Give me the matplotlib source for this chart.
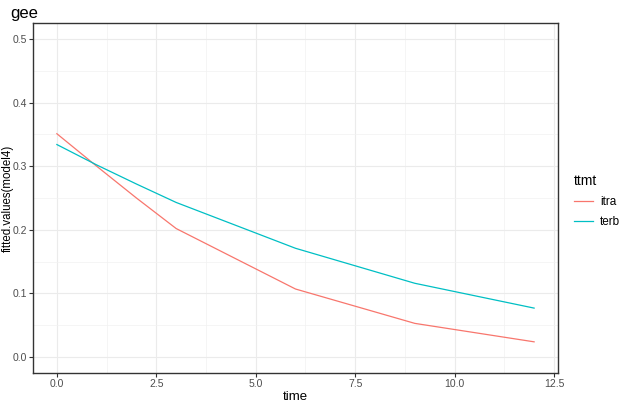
import matplotlib
matplotlib.use("Agg")
import matplotlib.pyplot as plt
import numpy as np

plt.rcParams["font.family"] = ["Liberation Sans", "DejaVu Sans"]

time = [0, 1, 2, 3, 6, 9, 12]
itra = [0.351, 0.300, 0.250, 0.202, 0.107, 0.053, 0.024]
terb = [0.334, 0.302, 0.272, 0.243, 0.171, 0.116, 0.077]
groups = ["itra", "terb"]
colors = ["#F8766D", "#00BFC4"]

fig = plt.figure(figsize=(6.24, 4.07), dpi=100)
ax = fig.add_axes([0.0529, 0.0835, 0.8413, 0.86])

for name, vals, c in zip(groups, [itra, terb], colors):
    ax.plot(time, vals, color=c, lw=0.9, label=name)

ax.set_xlim(-0.6, 12.6)
ax.set_ylim(-0.025, 0.525)
ax.set_xticks(np.arange(0, 12.6, 2.5))
ax.set_xticklabels(["0.0", "2.5", "5.0", "7.5", "10.0", "12.5"])
ax.set_yticks(np.arange(0, 0.51, 0.1))
ax.set_yticklabels(["0.0", "0.1", "0.2", "0.3", "0.4", "0.5"])
ax.set_xticks(np.arange(1.25, 12.6, 2.5), minor=True)
ax.set_yticks(np.arange(0.05, 0.51, 0.1), minor=True)

ax.grid(True, which="major", color="#EBEBEB", lw=0.8)
ax.grid(True, which="minor", color="#F2F2F2", lw=0.5)
ax.set_axisbelow(True)
ax.tick_params(which="minor", length=0)
ax.tick_params(which="major", length=3, color="#333333", width=0.8,
               labelsize=7.5, labelcolor="#4D4D4D", pad=1.5)
for s in ax.spines.values():
    s.set_color("#333333")
    s.set_linewidth(1.0)

ax.set_xlabel("time", fontsize=9.5, labelpad=1)
ax.set_ylabel("fitted.values(model4)", fontsize=8.3)
ax.yaxis.set_label_coords(-0.0365, 0.5)
fig.text(0.016, 0.967, "gee", fontsize=12, va="center", ha="left")

leg = ax.legend(title="ttmt", loc="upper left", bbox_to_anchor=(1.01, 0.6),
                frameon=False, fontsize=8.5, title_fontsize=10,
                handlelength=1.6, handletextpad=0.6, labelspacing=0.7)
leg._legend_box.align = "left"

fig.savefig("out.png", dpi=100)
